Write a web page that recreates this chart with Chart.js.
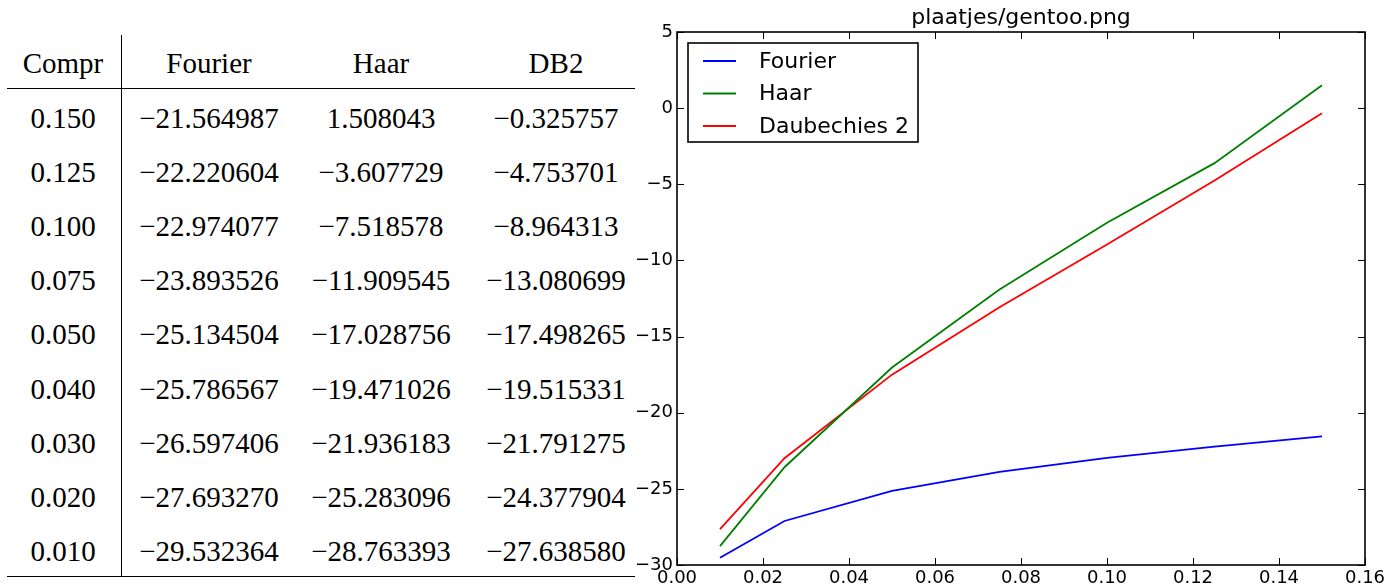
<!DOCTYPE html>
<html>
<head>
<meta charset="utf-8">
<script src="https://cdn.jsdelivr.net/npm/chart.js@4.4.1/dist/chart.umd.min.js"></script>
<style>
  html, body { margin: 0; padding: 0; background: #ffffff; }
  body { width: 1392px; height: 587px; position: relative; overflow: hidden; }
  #tbl { position: absolute; left: 0; top: 0; width: 640px; height: 587px; font-family: "Liberation Serif", "DejaVu Serif", serif; font-size: 29px; color: #000; }
  .cell { position: absolute; line-height: 1; transform: translate(-50%, -50%); white-space: nowrap; }
  .rule { position: absolute; background: #000; }
  #chartWrap { position: absolute; left: 600px; top: 0; width: 792px; height: 587px; }
</style>
</head>
<body>
<div id="tbl"></div>
<div id="chartWrap"><canvas id="c" width="792" height="587"></canvas></div>
<script>
// ---- table data (as printed in the reference table) ----
const tableHeader = ["Compr", "Fourier", "Haar", "DB2"];
const comprLabels = ["0.150", "0.125", "0.100", "0.075", "0.050", "0.040", "0.030", "0.020", "0.010"];
const fourierTable = ["\u221221.564987", "\u221222.220604", "\u221222.974077", "\u221223.893526", "\u221225.134504", "\u221225.786567", "\u221226.597406", "\u221227.693270", "\u221229.532364"];
const haarTable = ["1.508043", "\u22123.607729", "\u22127.518578", "\u221211.909545", "\u221217.028756", "\u221219.471026", "\u221221.936183", "\u221225.283096", "\u221228.763393"];
const db2Table = ["\u22120.325757", "\u22124.753701", "\u22128.964313", "\u221213.080699", "\u221217.498265", "\u221219.515331", "\u221221.791275", "\u221224.377904", "\u221227.638580"];

// ---- plotted data ----
const xValues = [0.01, 0.025, 0.05, 0.075, 0.10, 0.125, 0.15];
const fourierVals = [-29.53, -27.11, -25.13, -23.89, -22.97, -22.22, -21.56];
const haarVals = [-28.76, -23.58, -17.03, -11.91, -7.52, -3.61, 1.51];
const db2Vals = [-27.64, -22.99, -17.50, -13.08, -8.96, -4.75, -0.33];
const seriesNames = ["Fourier", "Haar", "Daubechies 2"];
const chartTitle = "plaatjes/gentoo.png";

// ---- build table ----
(function buildTable() {
  const tbl = document.getElementById('tbl');
  const colX = [63, 209, 381, 556];
  const headerY = 63;
  const rowY0 = 118, rowStep = 54.1;
  function addCell(text, x, y) {
    const d = document.createElement('div');
    d.className = 'cell';
    d.textContent = text;
    d.style.left = x + 'px';
    d.style.top = y + 'px';
    tbl.appendChild(d);
  }
  function addRule(l, t, w, h) {
    const d = document.createElement('div');
    d.className = 'rule';
    d.style.left = l + 'px'; d.style.top = t + 'px';
    d.style.width = w + 'px'; d.style.height = h + 'px';
    tbl.appendChild(d);
  }
  tableHeader.forEach((h, i) => addCell(h, colX[i], headerY));
  const cols = [comprLabels, fourierTable, haarTable, db2Table];
  for (let r = 0; r < comprLabels.length; r++) {
    cols.forEach((col, i) => addCell(col[r], colX[i], rowY0 + r * rowStep));
  }
  addRule(7, 88, 628, 1.4);
  addRule(7, 576, 628, 1.4);
  addRule(120.5, 35, 1.2, 542);
})();

// ---- chart ----
const toPts = (vals) => vals.map((v, i) => ({ x: xValues[i], y: v }));
const colors = ['#0000ff', '#008000', '#ff0000'];

const framePlugin = {
  id: 'mplFrame',
  afterDraw(chart) {
    const ctx = chart.ctx;
    const a = chart.chartArea;
    const xs = chart.scales.x, ys = chart.scales.y;
    ctx.save();
    // tick marks (inward, on all four sides)
    ctx.strokeStyle = '#000';
    ctx.lineWidth = 1;
    const tl = 7;
    ctx.beginPath();
    xs.ticks.forEach(t => {
      const px = Math.round(xs.getPixelForValue(t.value)) + 0.5;
      ctx.moveTo(px, a.bottom); ctx.lineTo(px, a.bottom - tl);
      ctx.moveTo(px, a.top); ctx.lineTo(px, a.top + tl);
    });
    ys.ticks.forEach(t => {
      const py = Math.round(ys.getPixelForValue(t.value)) + 0.5;
      ctx.moveTo(a.left, py); ctx.lineTo(a.left + tl, py);
      ctx.moveTo(a.right, py); ctx.lineTo(a.right - tl, py);
    });
    ctx.stroke();
    // frame
    ctx.lineWidth = 1.6;
    ctx.strokeRect(a.left, a.top, a.right - a.left, a.bottom - a.top);
    // title
    ctx.fillStyle = '#000';
    ctx.font = '22px "DejaVu Sans"';
    ctx.textAlign = 'center';
    ctx.textBaseline = 'alphabetic';
    ctx.fillText(chartTitle, (a.left + a.right) / 2, 24);
    // legend
    const bx = a.left + 11, by = a.top + 11, bw = 230, bh = 99;
    ctx.fillStyle = '#fff';
    ctx.fillRect(bx, by, bw, bh);
    ctx.lineWidth = 1.6;
    ctx.strokeStyle = '#000';
    ctx.strokeRect(bx, by, bw, bh);
    ctx.font = '22px "DejaVu Sans"';
    ctx.textAlign = 'left';
    ctx.textBaseline = 'middle';
    chart.data.datasets.forEach((ds, i) => {
      const ly = by + 18 + i * 32.5;
      ctx.strokeStyle = ds.borderColor;
      ctx.lineWidth = 1.8;
      ctx.beginPath();
      ctx.moveTo(bx + 15, ly); ctx.lineTo(bx + 48, ly);
      ctx.stroke();
      ctx.fillStyle = '#000';
      ctx.fillText(ds.label, bx + 71, ly + 1);
    });
    ctx.restore();
  }
};

new Chart(document.getElementById('c'), {
  type: 'line',
  data: {
    datasets: [
      { label: seriesNames[0], data: toPts(fourierVals), borderColor: colors[0], backgroundColor: colors[0] },
      { label: seriesNames[1], data: toPts(haarVals), borderColor: colors[1], backgroundColor: colors[1] },
      { label: seriesNames[2], data: toPts(db2Vals), borderColor: colors[2], backgroundColor: colors[2] }
    ]
  },
  options: {
    responsive: false,
    animation: false,
    devicePixelRatio: 1,
    layout: { padding: { left: 0, right: 27, top: 32, bottom: 0 } },
    elements: {
      line: { borderWidth: 1.8, tension: 0, fill: false },
      point: { radius: 0, hoverRadius: 0 }
    },
    plugins: {
      legend: { display: false },
      title: { display: false },
      tooltip: { enabled: false }
    },
    scales: {
      x: {
        type: 'linear',
        min: 0, max: 0.16,
        grid: { display: false, drawTicks: false },
        border: { display: false },
        ticks: {
          stepSize: 0.02,
          padding: 3,
          color: '#000',
          font: { family: 'DejaVu Sans', size: 18 },
          maxRotation: 0,
          autoSkip: false,
          callback: (v) => Number(v).toFixed(2)
        },
        afterFit: (s) => { s.height = 22; }
      },
      y: {
        type: 'linear',
        min: -30, max: 5,
        grid: { display: false, drawTicks: false },
        border: { display: false },
        ticks: {
          stepSize: 5,
          padding: 4,
          color: '#000',
          font: { family: 'DejaVu Sans', size: 18 },
          autoSkip: false,
          callback: (v) => String(v).replace('-', '\u2212')
        },
        afterFit: (s) => { s.width = 77; }
      }
    }
  },
  plugins: [framePlugin]
});
</script>
</body>
</html>
